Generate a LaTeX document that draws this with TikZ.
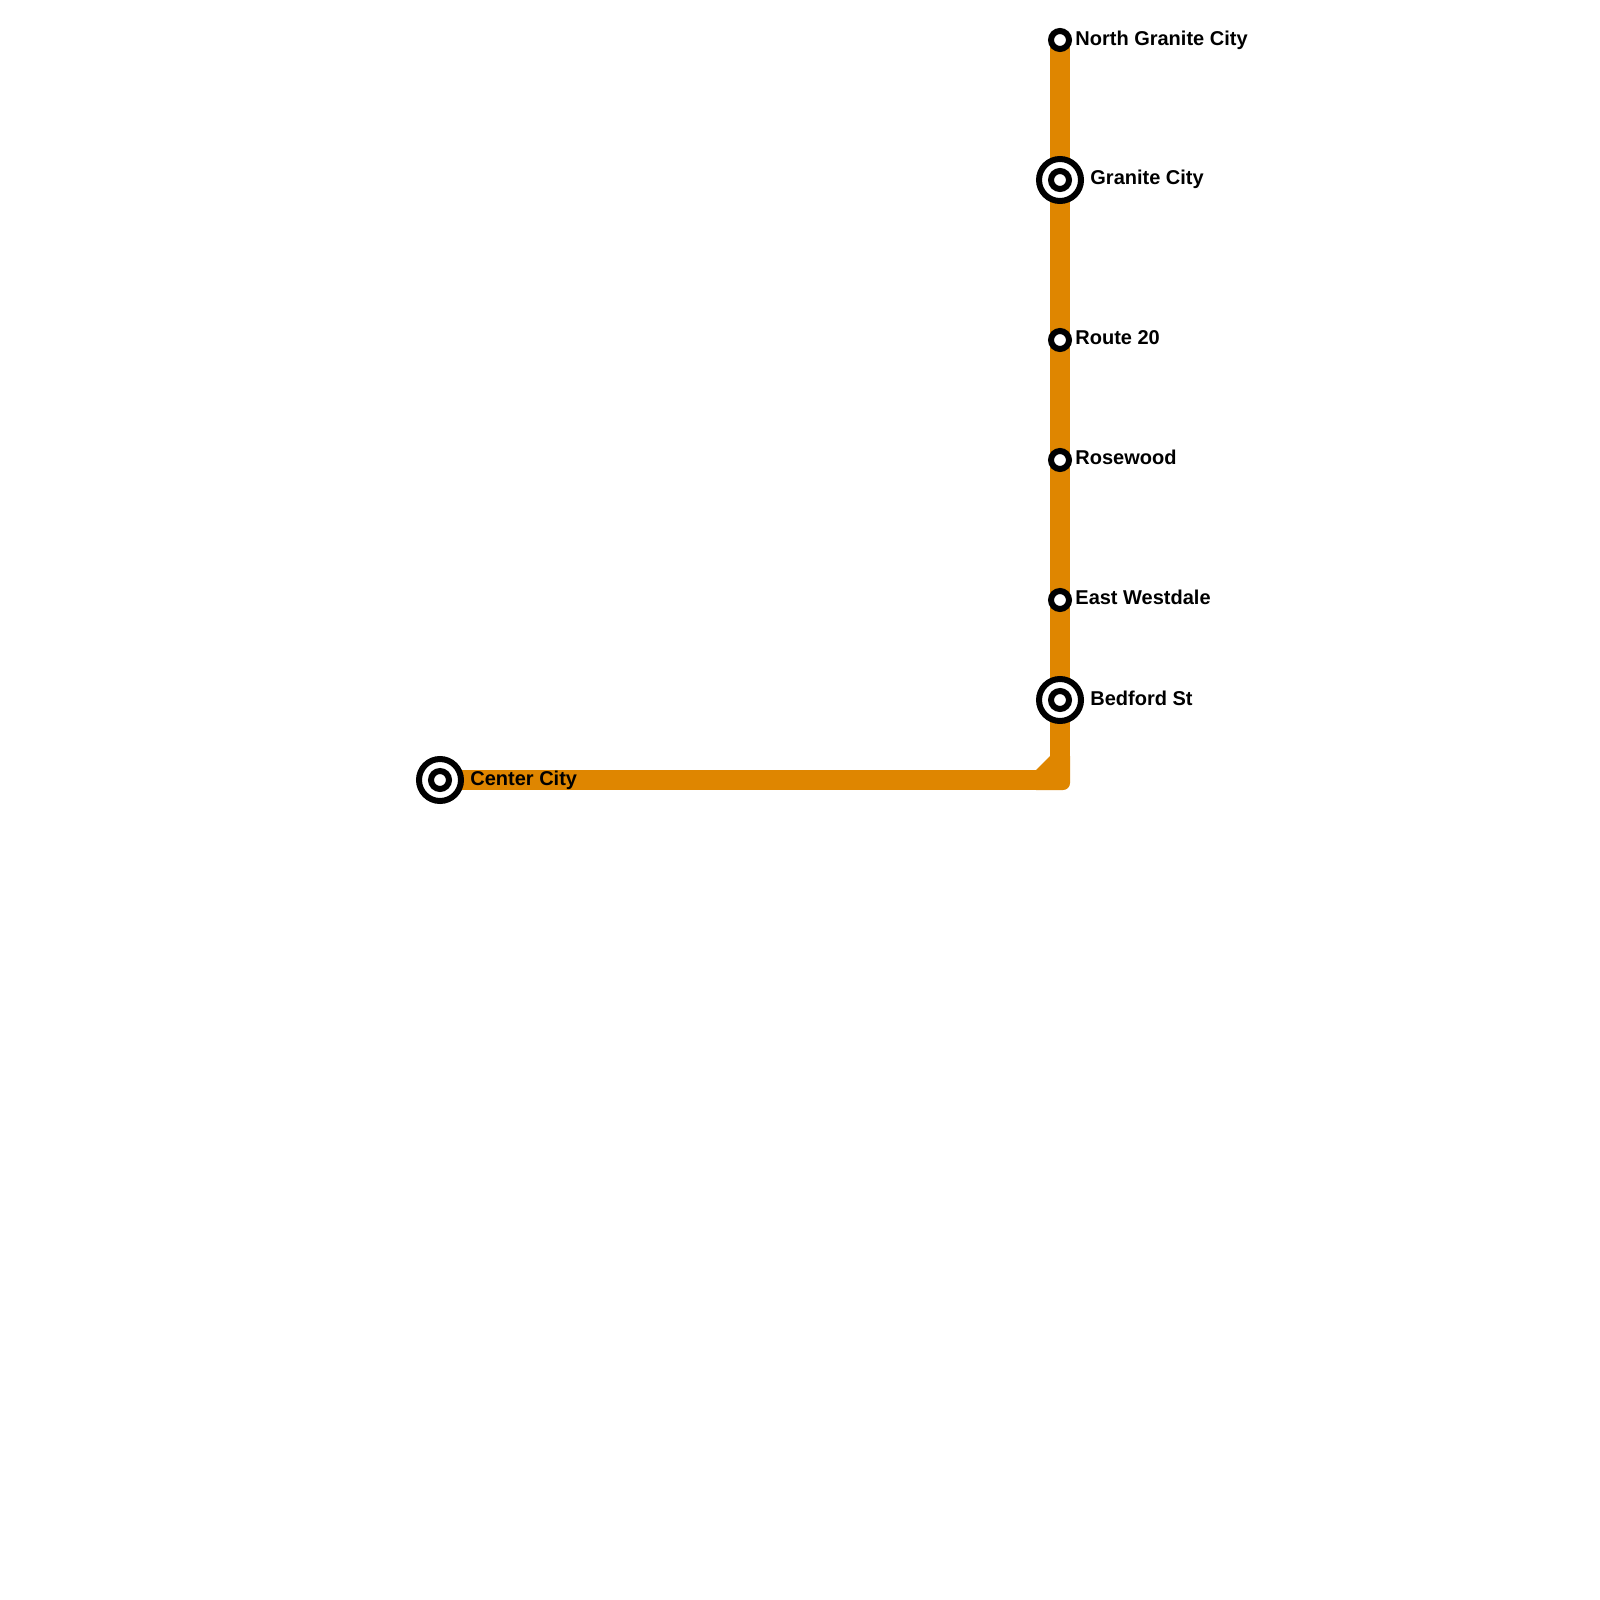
\documentclass[tikz,border=0pt]{standalone}
\usepackage{fontspec}
\setmainfont{Liberation Sans}
\definecolor{lineorange}{HTML}{DF8600}
\tikzset{
  linestroke/.style={draw=lineorange,line width=10pt,line join=round},
  stopring/.style={circle,draw=black,fill=white,line width=3pt,minimum size=9pt,inner sep=0pt},
  hubring/.style={circle,draw=black,fill=white,line width=3pt,minimum size=21pt,inner sep=0pt},
  stoplabel/.style={anchor=base west,inner sep=0pt,font=\bfseries\fontsize{10pt}{12pt}\selectfont,text=black}
}
\begin{document}
\begin{tikzpicture}[x=0.5pt,y=-0.5pt]
\useasboundingbox[fill=white] (0,0) rectangle (1600,1600);
\coordinate (northc) at (1060,40);
\coordinate (centerc) at (440,780);
\draw[linestroke] (northc) |- (centerc);
\fill[lineorange] (1036,770) -- (1050,756) -- (1070,756) [rounded corners=3.5pt] -- (1070,790) [sharp corners] -- (1036,790) -- cycle;
\node[stopring] (north) at (northc) {};
\node[hubring] (granite) at (1060,180) {};
\node[stopring] (granitecore) at (granite.center) {};
\node[stopring] (route) at (1060,340) {};
\node[stopring] (rosewood) at (1060,460) {};
\node[stopring] (westdale) at (1060,600) {};
\node[hubring] (bedford) at (1060,700) {};
\node[stopring] (bedfordcore) at (bedford.center) {};
\node[hubring] (center) at (centerc) {};
\node[stopring] (centercore) at (center.center) {};
\node[stoplabel] (lnorth) at (1075,45.25) {North Granite City};
\node[stoplabel] (lgranite) at (1090,184.5) {Granite City};
\node[stoplabel] (lroute) at (1075,344.5) {Route 20};
\node[stoplabel] (lrosewood) at (1075,464.5) {Rosewood};
\node[stoplabel] (lwestdale) at (1075,604.5) {East Westdale};
\node[stoplabel] (lbedford) at (1090,705) {Bedford St};
\node[stoplabel] (lcenter) at (470,785) {Center City};
\end{tikzpicture}
\end{document}
